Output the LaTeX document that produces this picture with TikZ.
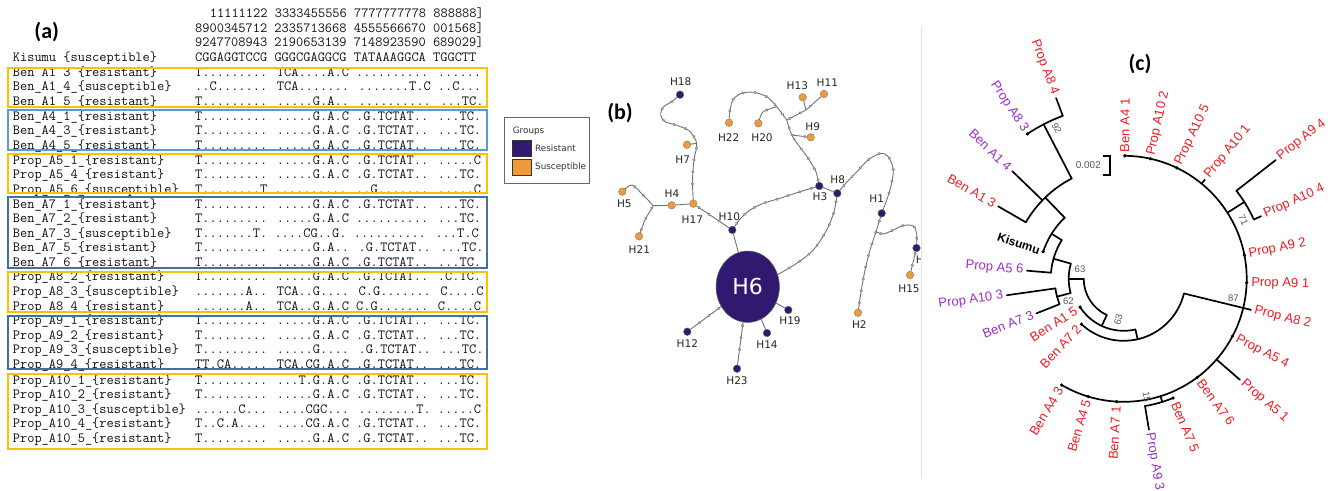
\documentclass[tikz,border=0pt]{standalone}
\usepackage{fontspec}
\setmainfont{Liberation Sans}
\newfontfamily\calib{Carlito}
\newfontfamily\dvs{DejaVu Sans}
\usetikzlibrary{shapes.geometric,decorations.markings,backgrounds}
\definecolor{resc}{HTML}{30196E}
\definecolor{susc}{HTML}{EE9A3A}
\definecolor{boxo}{HTML}{FFC000}
\definecolor{boxb}{HTML}{5B9BD5}
\definecolor{boxd}{HTML}{41719C}
\definecolor{cred}{HTML}{EE1C24}
\definecolor{cpur}{HTML}{9A2FCB}
\definecolor{seqc}{HTML}{111111}
\newcommand\tarc[3]{\draw[treeline] (#2:#1) arc[start angle=#2, end angle=#3, radius=#1];}
\newcommand\trad[3]{\draw[treeline] (#1:#2) -- (#1:#3);}
\newcommand\tdot[2]{\fill (#1:#2) circle (1.8pt);}
\newcommand\alrow[4]{\node[nametxt] (#1n) at (12.7,#2+3.5) {#3}; \node[seqtxt] (#1s) at (195,#2+3.5) {#4};}
\begin{document}
\begin{tikzpicture}[x=1pt, y=-1pt,
  plabel/.style={font=\calib\bfseries\fontsize{22}{26}\selectfont, inner sep=0pt},
  nametxt/.style={font=\ttfamily\fontsize{14}{16}\selectfont, text=seqc, anchor=base west, inner sep=0pt},
  seqtxt/.style={font=\ttfamily\fontsize{14}{16}\selectfont, text=seqc, anchor=base west, inner sep=0pt},
  obox/.style={draw=boxo, line width=1.8pt},
  bbox/.style={draw=boxb, line width=1.8pt},
  dbox/.style={draw=boxd, line width=1.8pt},
  legtxt/.style={font=\dvs\fontsize{8.8}{10}\selectfont, text=black!80, anchor=west, inner sep=0pt},
  hlab/.style={font=\dvs\fontsize{10.5}{12}\selectfont, text=black!85, inner sep=0pt},
  resn/.style={circle, fill=resc, draw=black!60, line width=0.4pt, minimum size=7.6pt, inner sep=0pt},
  susn/.style={circle, fill=susc, draw=black!50, line width=0.4pt, minimum size=7.6pt, inner sep=0pt},
  edge/.style={draw=black!55, line width=0.9pt},
  mutedge/.style={edge, postaction={decorate, decoration={markings, mark=between positions 0.08 and 0.92 step 12pt with {\filldraw[draw=black!55, fill=black!25, line width=0.4pt] (0,0) circle (1.3pt);}}}},
  mutdot/.style={draw=black!55, fill=black!25, line width=0.4pt},
  treeline/.style={line width=1.7pt, black, line cap=round},
  tl/.style={font=\fontsize{13}{15}\selectfont, inner sep=0.5pt},
  boot/.style={font=\fontsize{9.5}{11}\selectfont, text=black!65, inner sep=0pt}
]
\useasboundingbox (0,0) rectangle (1343,490);

% ---------------- panel (a) ----------------
\node[plabel] (pa) at (46.7,32) {(a)};
\node[seqtxt] (hd1) at (209.7,17.7) {11111122 3333455556 7777777778 888888]};
\node[seqtxt] (hd2) at (195,32.1) {8900345712 2335713668 4555566670 001568]};
\node[seqtxt] (hd3) at (195,46.5) {9247708943 2190653139 7148923590 689029]};
\alrow{r1}{58}{Kisumu \{susceptible\}}{CGGAGGTCCG GGGCGAGGCG TATAAAGGCA TGGCTT}
\alrow{r2}{72.7}{Ben A1 3 \{resistant\}}{T......... TCA....A.C .......... ......}
\alrow{r3}{87.3}{Ben\_A1\_4\_\{susceptible\}}{..C....... TCA....... .......T.C ..C...}
\alrow{r4}{101.7}{Ben\_A1\_5\_\{resistant\}}{T......... .....G.A.. .......... ...TC.}
\alrow{r5}{117}{Ben\_A4\_1\_\{resistant\}}{T......... .....G.A.C .G.TCTAT.. ...TC.}
\alrow{r6}{131}{Ben\_A4\_3\_\{resistant\}}{T......... .....G.A.C .G.TCTAT.. ...TC.}
\alrow{r7}{145.7}{Ben\_A4\_5\_\{resistant\}}{T......... .....G.A.C .G.TCTAT.. ...TC.}
\alrow{r8}{160.7}{Prop\_A5\_1\_\{resistant\}}{T......... .....G.A.C .G.TCTAT.. .....C}
\alrow{r9}{175}{Prop\_A5\_4\_\{resistant\}}{T......... .....G.A.C .G.TCTAT.. ...TC.}
\alrow{r10}{190}{Prop\_A5\_6\_\{susceptible\}}{T........T .......... ..G....... .....C}
\alrow{r11}{204.5}{Ben\_A7\_1\_\{resistant\}}{T......... .....G.A.C .G.TCTAT.. ...TC.}
\alrow{r12}{219}{Ben\_A7\_2\_\{resistant\}}{T......... .....G.A.C .......... ...TC.}
\alrow{r13}{233.5}{Ben\_A7\_3\_\{susceptible\}}{T.......T. ....CG..G. .......... ...T.C}
\alrow{r14}{248}{Ben\_A7\_5\_\{resistant\}}{T......... .....G.A.. .G.TCTAT.. ...TC.}
\alrow{r15}{262.7}{Ben\_A7\_6\_\{resistant\}}{T......... .....G.A.C .G.TCTAT.. ...TC.}
\alrow{r16}{277.3}{Prop\_A8\_2\_\{resistant\}}{T......... .....G.A.C .G.TCTAT.. .C.TC.}
\alrow{r17}{292.3}{Prop\_A8\_3\_\{susceptible\}}{.......A.. TCA..G.... C.G....... C....C}
\alrow{r18}{306.7}{Prop\_A8\_4\_\{resistant\}}{.......A.. TCA..G.A.C C.G....... C....C}
\alrow{r19}{321}{Prop\_A9\_1\_\{resistant\}}{T......... .....G.A.C .G.TCTAT.. ...TC.}
\alrow{r20}{335.7}{Prop\_A9\_2\_\{resistant\}}{T......... .....G.A.C .G.TCTAT.. ...TC.}
\alrow{r21}{350}{Prop\_A9\_3\_\{susceptible\}}{T......... .....G.... .G.TCTAT.. ...TC.}
\alrow{r22}{364.5}{Prop\_A9\_4\_\{resistant\}}{TT.CA..... TCA.CG.A.C .G.TCTAT.. ...TC.}
\alrow{r23}{380.7}{Prop\_A10\_1\_\{resistant\}}{T......... ...T.G.A.C .G.TCTAT.. ...TC.}
\alrow{r24}{395}{Prop\_A10\_2\_\{resistant\}}{T......... .....G.A.C .G.TCTAT.. ...TC.}
\alrow{r25}{410}{Prop\_A10\_3\_\{susceptible\}}{......C... ....CGC... ........T. .....C}
\alrow{r26}{424.3}{Prop\_A10\_4\_\{resistant\}}{T..C.A.... ....CG.A.C .G.TCTAT.. ...TC.}
\alrow{r27}{439}{Prop\_A10\_5\_\{resistant\}}{T......... .....G.A.C .G.TCTAT.. ...TC.}
\draw[obox] (8.3,67.7) rectangle (487,106.7);
\draw[bbox] (8.3,110) rectangle (487,150);
\draw[obox] (8.3,154.3) rectangle (487,192.7);
\draw[dbox] (8.3,197.3) rectangle (487,268);
\draw[obox] (8.3,272.3) rectangle (487,311.7);
\draw[dbox] (8.3,316) rectangle (487,369);
\draw[obox] (8.3,374) rectangle (487,449.3);

% ---------------- legend ----------------
\node[draw=black!60, line width=0.8pt, minimum width=85pt, minimum height=66.3pt, anchor=north west, inner sep=0pt] (leg) at (504,116.7) {};
\node[legtxt] (lgG) at (512.7,130.7) {Groups};
\node[draw=black!80, fill=resc, minimum width=18.3pt, minimum height=15.3pt, inner sep=0pt] (swR) at (521.8,148.3) {};
\node[draw=black!80, fill=susc, minimum width=18.3pt, minimum height=15.3pt, inner sep=0pt] (swS) at (521.8,167.2) {};
\node[legtxt] (lgR) at (535,148.3) {Resistant};
\node[legtxt] (lgS) at (535,167.2) {Susceptible};

% ---------------- panel (b) ----------------
\node[plabel] (pb) at (620,113.3) {(b)};
\node[resn] (H18) at (680,94.7) {};
\node[susn] (H7) at (687,144.7) {};
\node[susn] (H13) at (802.7,97.3) {};
\node[susn] (H11) at (824,94) {};
\node[susn] (H22) at (729,122.7) {};
\node[susn] (H20) at (758.3,123.3) {};
\node[susn] (H9) at (810.7,137.3) {};
\node[susn] (H5) at (622.3,191.7) {};
\node[susn] (H4) at (671.7,205.3) {};
\node[susn] (H17) at (693.3,203.7) {};
\node[resn] (H10) at (732.3,230) {};
\node[susn] (H21) at (639,236.3) {};
\node[resn] (H3) at (819.3,186) {};
\node[resn] (H8) at (837.3,193.3) {};
\node[resn] (H1) at (881.7,213.3) {};
\node[resn] (H16) at (916.5,248) {};
\node[susn] (H15) at (910,275) {};
\node[susn] (H2) at (858,312.7) {};
\node[resn] (H19) at (788.3,310) {};
\node[resn] (H12) at (687.3,331.7) {};
\node[resn] (H14) at (767,333) {};
\node[resn] (H23) at (737,368.7) {};
\node[ellipse, fill=resc, draw=black!60, line width=0.5pt, minimum width=63.4pt, minimum height=71.4pt, inner sep=0pt, text=white, font=\dvs\fontsize{22}{24}\selectfont] (H6) at (747.7,286.7) {H6};
\coordinate (J7) at (696.7,143.3);
\coordinate (J5) at (653.3,205.7);
\coordinate (Jt) at (786.7,120);
\coordinate (Jb) at (806,110);
\coordinate (J9) at (791.7,135);
\coordinate (J20) at (776.7,106.7);
\coordinate (J1) at (876,231.7);

\node[hlab] (lH18) at (680.7,81.7) {H18};
\node[hlab] (lH13) at (797.3,86) {H13};
\node[hlab] (lH11) at (827.3,82.7) {H11};
\node[hlab] (lH22) at (728.7,137.7) {H22};
\node[hlab] (lH20) at (762,137.7) {H20};
\node[hlab] (lH9) at (812.7,126.7) {H9};
\node[hlab] (lH7) at (682.7,160) {H7};
\node[hlab] (lH5) at (624.3,203.3) {H5};
\node[hlab] (lH4) at (672,193.3) {H4};
\node[hlab] (lH17) at (692.3,219.3) {H17};
\node[hlab] (lH10) at (729.3,216.7) {H10};
\node[hlab] (lH21) at (639.3,249.3) {H21};
\node[hlab] (lH3) at (820,196.7) {H3};
\node[hlab] (lH8) at (837.7,179.3) {H8};
\node[hlab] (lH1) at (876.7,199) {H1};
\node[hlab] (lH15) at (909,288.7) {H15};
\node[hlab] (lH2) at (859.3,324.7) {H2};
\node[hlab] (lH19) at (790,320.7) {H19};
\node[hlab] (lH12) at (687.3,343.3) {H12};
\node[hlab] (lH14) at (767,345) {H14};
\node[hlab] (lH23) at (737,380.7) {H23};
\begin{scope}
 \clip (880,240) rectangle (920,280);
 \node[hlab, anchor=west] (lH16) at (915.6,259.5) {H16};
\end{scope}

\begin{pgfonlayer}{background}
 \fill[white] (0,0) rectangle (1343,490);
 \draw[mutedge] plot[smooth] coordinates {(H18) (671.7,101.7) (663.3,107) (660.7,115) (665,121.7) (676.7,125.3) (689.3,131) (J7) (694,160) (692.5,180) (H17)};
 \draw[edge] (J7) -- (H7);
 \draw[mutedge] plot[smooth] coordinates {(H5) (631.7,185) (643,195) (J5)};
 \draw[mutedge] plot[smooth] coordinates {(J5) (645,220) (H21)};
 \draw[edge] (J5) -- (H4) -- (H17);
 \draw[mutedge] (H17) -- (H10);
 \draw[edge] (H10) -- (H6);
 \draw[mutedge] plot[smooth] coordinates {(H10) (740,219) (750,210) (763.3,203.3) (780,198.3) (800,191.7) (H3)};
 \draw[edge] (H3) -- (H8);
 \draw[mutedge] plot[smooth] coordinates {(H3) (816,172) (808,158) (799,146) (J9) (Jt)};
 \draw[mutedge] (J9) -- (H9);
 \draw[mutedge] (Jt) -- (Jb) -- (H11);
 \draw[edge] (Jb) -- (H13);
 \draw[mutedge] plot[smooth] coordinates {(Jt) (J20) (766.7,96.7) (753.3,92.3) (741.7,93.3) (733.3,99.3) (730,110) (H22)};
 \draw[edge] plot[smooth] coordinates {(H20) (761.7,113.3) (766.7,110) (J20)};
 \filldraw[mutdot] (766.7,110) circle (1.3pt);
 \draw[mutedge] plot[smooth] coordinates {(H8) (846,183) (856.7,172) (868,160) (880.7,153.3) (888.3,156.7) (893.3,170) (890,190) (H1)};
 \draw[mutedge] plot[smooth] coordinates {(H8) (834,211.7) (826.7,230) (813.3,250) (796.7,263.3) (H6.22)};
 \draw[mutedge] plot[smooth] coordinates {(H1) (J1) (870,250) (865,270) (861,292) (H2)};
 \draw[mutedge] plot[smooth] coordinates {(J1) (883.3,234) (893.3,230) (903.3,225.5) (913.3,226) (916.7,234) (H16)};
 \draw[mutedge] (H16) -- (H15);
 \draw[mutedge] (H6) -- (H12);
 \draw[mutedge] (H6) -- (H23);
 \draw[edge] (H6) -- (H14);
 \draw[edge] (H6) -- (H19);
\end{pgfonlayer}

% ---------------- panel (c) ----------------
\draw[black!10, line width=0.8pt] (921,27) -- (921,478);
\node[plabel] (pc) at (1140,64) {(c)};
\begin{scope}[shift={(1123.7,278.8)}]
 \tarc{123}{-89.5}{120.3}
 \trad{13.7}{62}{131}
 \tdot{-89.5}{123} \tdot{-77.5}{123} \tdot{-64.4}{123} \tdot{-11.1}{123} \tdot{1.8}{123}
 \tdot{27.8}{123} \tdot{53.3}{123} \tdot{93.3}{123} \tdot{106.8}{123} \tdot{120.3}{123}
 \trad{-50.7}{123}{128}
 \trad{-32.5}{123}{143}
 \tarc{143}{-38}{-24.5}
 \trad{-38}{143}{193}
 \trad{-24.5}{143}{151}
 \trad{41}{123}{154}
 \trad{72.6}{123}{129}
 \tarc{129}{67.5}{80.5}
 \trad{80.5}{129}{153}
 \tdot{67.5}{129}
 \tarc{62}{-227}{-346.3}
 \tdot{-227}{62}
 \trad{-283}{52}{62}
 \tarc{52}{-213}{-283}
 \tdot{-213}{52}
 \trad{-245}{40}{52}
 \tarc{40}{-180}{-245}
 \trad{-180}{40}{55}
 \tarc{55}{-164}{-195}
 \trad{-195}{55}{69}
 \tarc{69}{-188}{-201.6}
 \trad{-188}{69}{118}
 \trad{-201.6}{69}{94}
 \trad{-164}{55}{73}
 \tarc{73}{-148}{-175.2}
 \trad{-175.2}{73}{97}
 \trad{-148}{73}{85}
 \tarc{85}{-134}{-161.4}
 \tdot{-161.4}{85}
 \trad{-134}{85}{113}
 \tarc{113}{-117.4}{-150}
 \trad{-136}{113}{155}
 \trad{-150}{113}{145}
 \trad{-117.4}{113}{174}
 \tarc{174}{-110.5}{-123.6}
 \tdot{-123.6}{174}
 \trad{-110.5}{174}{193}
 % right-hand labels
 \node[tl, text=cred, anchor=west, rotate=89.5] (cA41) at (-89.5:126) {Ben A4 1};
 \node[tl, text=cred, anchor=west, rotate=77.5] (cA102) at (-77.5:126) {Prop A10 2};
 \node[tl, text=cred, anchor=west, rotate=64.4] (cA105) at (-64.4:126) {Prop A10 5};
 \node[tl, text=cred, anchor=west, rotate=50.7] (cA101) at (-50.7:131) {Prop A10 1};
 \node[tl, text=cred, anchor=west, rotate=38] (cA94) at (-38:196) {Prop A9 4};
 \node[tl, text=cred, anchor=west, rotate=24.5] (cA104) at (-24.5:154) {Prop A10 4};
 \node[tl, text=cred, anchor=west, rotate=11.1] (cA92) at (-11.1:127) {Prop A9 2};
 \node[tl, text=cred, anchor=west, rotate=-1.8] (cA91) at (1.8:127) {Prop A9 1};
 \node[tl, text=cred, anchor=west, rotate=-13.7] (cA82) at (13.7:134) {Prop A8 2};
 \node[tl, text=cred, anchor=west, rotate=-27.8] (cA54) at (27.8:127) {Prop A5 4};
 \node[tl, text=cred, anchor=west, rotate=-41] (cA51) at (41:157) {Prop A5 1};
 \node[tl, text=cred, anchor=west, rotate=-53.3] (cA76) at (53.3:127) {Ben A7 6};
 \node[tl, text=cred, anchor=west, rotate=-67.5] (cA75) at (67.5:133) {Ben A7 5};
 \node[tl, text=cpur, anchor=west, rotate=-80.5] (cA93) at (80.5:156) {Prop A9 3};
 % left-hand labels
 \node[tl, text=cred, anchor=east, rotate=86.7] (cA71) at (93.3:127) {Ben A7 1};
 \node[tl, text=cred, anchor=east, rotate=73.2] (cA45) at (106.8:126) {Ben A4 5};
 \node[tl, text=cred, anchor=east, rotate=59.7] (cA43) at (120.3:126) {Ben A4 3};
 \node[tl, text=cred, anchor=east, rotate=47] (cA72) at (133:65) {Ben A7 2};
 \node[tl, text=cred, anchor=east, rotate=33] (cA15) at (147:56) {Ben A1 5};
 \node[tl, text=cpur, anchor=east, rotate=21.6] (cA73) at (158.4:97) {Ben A7 3};
 \node[tl, text=cpur, anchor=east, rotate=8] (cA103) at (172:121) {Prop A10 3};
 \node[tl, text=cpur, anchor=east, rotate=-4.8] (cA56) at (-175.2:100) {Prop A5 6};
 \node[tl, text=black, anchor=east, rotate=-18.6, font=\bfseries\fontsize{12}{14}\selectfont] (cKis) at (-161.4:88) {Kisumu};
 \node[tl, text=cred, anchor=east, rotate=-30] (cA13) at (-150:148) {Ben A1 3};
 \node[tl, text=cpur, anchor=east, rotate=-44] (cA14) at (-136:158) {Ben A1 4};
 \node[tl, text=cpur, anchor=east, rotate=-56.4] (cA83) at (-123.6:177) {Prop A8 3};
 \node[tl, text=cred, anchor=east, rotate=-69.5] (cA84) at (-110.5:196) {Prop A8 4};
\end{scope}
% bootstrap values
\node[boot, rotate=-62] (b92) at (1056.7,128.3) {92};
\node[boot, rotate=-65] (b71) at (1243.3,220) {71};
\node[boot] (b63a) at (1080,269.3) {63};
\node[boot] (b62) at (1068.3,301.7) {62};
\node[boot, rotate=75] (b63b) at (1118.3,320) {63};
\node[boot] (b87) at (1233.3,298.3) {87};
\node[boot, rotate=-80] (b15) at (1146.7,396.7) {15};
% scale bar
\draw[line width=1.5pt] (1103.3,156) -- (1110,156) -- (1110,175) -- (1103.3,175);
\node[boot, anchor=east, font=\fontsize{10}{12}\selectfont] (sbar) at (1101,165.5) {0.002};
\end{tikzpicture}
\end{document}
